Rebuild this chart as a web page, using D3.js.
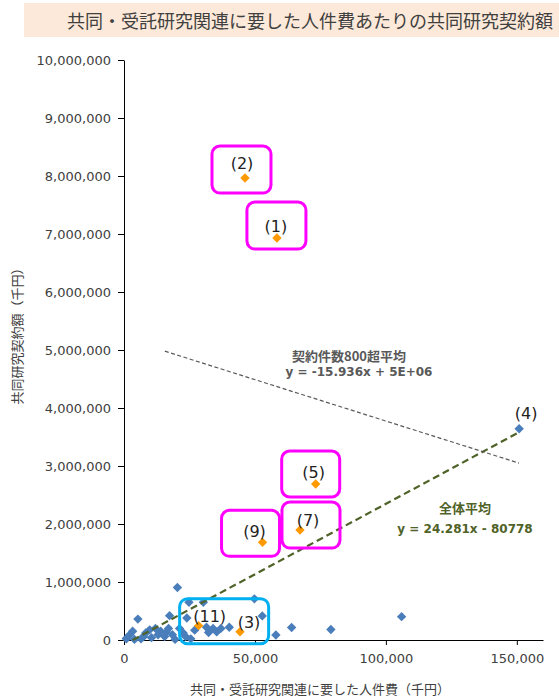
<!DOCTYPE html>
<html>
<head>
<meta charset="utf-8">
<script src="https://cdn.jsdelivr.net/npm/d3@7"></script>
<style>
  body { margin: 0; background: #fff; }
  svg { display: block; }
</style>
</head>
<body>
<script>
// 共同・受託研究関連に要した人件費 (千円) vs 共同研究契約額 (千円)
const blueX = [900, 1000, 2200, 3300, 4000, 5300, 6500, 7500, 8300, 9800, 10500, 12000, 13000, 14000,
  15500, 16200, 17400, 17000, 18500, 19500, 20400, 21200, 22600, 23500, 24000, 24800, 25500, 27000,
  30300, 31500, 32300, 34000, 35400, 37000, 40200, 49800, 52800, 58000, 64000, 79000, 106000];
const blueY = [20000, 30000, 90000, 150000, 10000, 360000, 20000, 60000, 120000, 175000, 40000, 200000, 90000, 150000,
  60000, 140000, 420000, 200000, 90000, 10000, 905000, 200000, 120000, 60000, 380000, 650000, 20000, 170000,
  650000, 220000, 130000, 200000, 140000, 200000, 220000, 710000, 415000, 86000, 215000, 180000, 402000];

// labelled universities
const namedLabels = ["(1)", "(2)", "(3)", "(4)", "(5)", "(7)", "(9)", "(11)"];
const namedX = [58400, 46200, 44300, 150900, 73200, 67200, 52900, 28500];
const namedY = [6930000, 7965000, 143000, 3643000, 2690000, 1896000, 1684000, 247000];
const namedOrange = [true, true, true, false, true, true, true, true];

// trend lines
const allSlope = 24.281, allIntercept = -80778;
const allLabel = ["全体平均", "y = 24.281x - 80778"];
const bigX = [15600, 150800];
const bigY = [4980000, 3050000];
const bigLabel = ["契約件数800超平均", "y = -15.936x + 5E+06"];

const yTicks = d3.range(0, 10000001, 1000000);
const xTicks = [0, 50000, 100000, 150000];

const W = 559, H = 699;
const blue = "#4A7EBB", orange = "#FF9900";
const tickFont = "DejaVu Sans, Verdana, sans-serif";
const jpFont = "'Noto Sans CJK JP', sans-serif";

const svg = d3.select("body").append("svg")
    .attr("width", W)
    .attr("height", H);

// title band
svg.append("rect")
    .attr("x", 24).attr("y", 3)
    .attr("width", W - 24).attr("height", 34)
    .attr("fill", "#FDE9D9");
svg.append("text")
    .attr("x", 310).attr("y", 20)
    .attr("text-anchor", "middle")
    .attr("dominant-baseline", "central")
    .style("font-family", jpFont)
    .style("font-size", "18px")
    .style("fill", "#404040")
    .text("共同・受託研究関連に要した人件費あたりの共同研究契約額");

const x = d3.scaleLinear().domain([0, 160000]).range([124, 543]);
const y = d3.scaleLinear().domain([0, 10000000]).range([640, 60]);

const yAxis = svg.append("g")
    .attr("transform", "translate(124,0)")
    .call(d3.axisLeft(y).tickValues(yTicks).tickFormat(d3.format(",")).tickSize(6).tickSizeOuter(0).tickPadding(7));
const xAxis = svg.append("g")
    .attr("transform", "translate(0,640)")
    .call(d3.axisBottom(x).tickValues(xTicks).tickFormat(d3.format(",")).tickSize(5).tickSizeOuter(0).tickPadding(9));

[yAxis, xAxis].forEach(g => {
    g.selectAll("text")
        .style("font-family", tickFont)
        .style("font-size", "13px")
        .style("fill", "#404040");
    g.selectAll("line, path").attr("stroke", "#000");
});

svg.append("text")
    .attr("transform", "translate(16,333) rotate(-90)")
    .attr("text-anchor", "middle")
    .attr("dominant-baseline", "central")
    .style("font-family", jpFont)
    .style("font-size", "13px")
    .style("fill", "#404040")
    .text("共同研究契約額（千円）");

svg.append("text")
    .attr("x", 320).attr("y", 688)
    .attr("text-anchor", "middle")
    .attr("dominant-baseline", "central")
    .style("font-family", jpFont)
    .style("font-size", "13px")
    .style("fill", "#404040")
    .text("共同・受託研究関連に要した人件費（千円）");

// diamond marker
const diamond = d3.symbol().type(d3.symbolSquare).size(44);

const bluePts = blueX.map((v, i) => ({ x: v, y: blueY[i] }));
svg.append("g").selectAll("path")
    .data(bluePts)
    .enter()
    .append("path")
    .attr("d", diamond)
    .attr("transform", d => `translate(${x(d.x)},${y(d.y)}) rotate(45)`)
    .attr("fill", blue);

// trend: 全体平均 (from x-intercept to max x)
const allX0 = -allIntercept / allSlope;
const allX1 = d3.max(namedX);
svg.append("line")
    .attr("x1", x(allX0)).attr("y1", y(allSlope * allX0 + allIntercept))
    .attr("x2", x(allX1)).attr("y2", y(allSlope * allX1 + allIntercept))
    .attr("stroke", "#4F6228")
    .attr("stroke-width", 2.2)
    .attr("stroke-dasharray", "7,4");

// trend: 契約件数800超平均
svg.append("line")
    .attr("x1", x(bigX[0])).attr("y1", y(bigY[0]))
    .attr("x2", x(bigX[1])).attr("y2", y(bigY[1]))
    .attr("stroke", "#595959")
    .attr("stroke-width", 1.2)
    .attr("stroke-dasharray", "4,2.5");

const named = namedLabels.map((l, i) => ({ label: l, x: namedX[i], y: namedY[i], orange: namedOrange[i] }));

svg.append("g").selectAll("path")
    .data(named)
    .enter()
    .append("path")
    .attr("d", diamond)
    .attr("transform", d => `translate(${x(d.x)},${y(d.y)}) rotate(45)`)
    .attr("fill", d => d.orange ? orange : blue);

// label offsets (px) from the point
const labelOffset = {
    "(1)": [-1, -12], "(2)": [-3, -15], "(3)": [9, -9], "(4)": [7, -15],
    "(5)": [-2, -11], "(7)": [8, -10], "(9)": [-8, -11], "(11)": [11, -9]
};

svg.append("g").selectAll("text")
    .data(named)
    .enter()
    .append("text")
    .attr("x", d => x(d.x) + labelOffset[d.label][0])
    .attr("y", d => y(d.y) + labelOffset[d.label][1])
    .attr("text-anchor", "middle")
    .attr("dominant-baseline", "central")
    .style("font-family", tickFont)
    .style("font-size", "16px")
    .style("fill", "#222")
    .text(d => d.label);

// callout boxes, placed relative to a point
const callouts = [
    { at: "(2)", dx: -33, dy: -32, w: 59, h: 47, color: "#FF00FF" },
    { at: "(1)", dx: -30, dy: -36, w: 59, h: 47, color: "#FF00FF" },
    { at: "(5)", dx: -34, dy: -33, w: 58, h: 46, color: "#FF00FF" },
    { at: "(7)", dx: -18, dy: -28, w: 58, h: 46, color: "#FF00FF" },
    { at: "(9)", dx: -41, dy: -32, w: 58, h: 46, color: "#FF00FF" },
    { at: "(11)", dx: -19, dy: -27, w: 89, h: 45, color: "#00B0F0" }
];
const byLabel = new Map(named.map(d => [d.label, d]));

svg.append("g").selectAll("rect")
    .data(callouts)
    .enter()
    .append("rect")
    .attr("x", d => x(byLabel.get(d.at).x) + d.dx)
    .attr("y", d => y(byLabel.get(d.at).y) + d.dy)
    .attr("width", d => d.w)
    .attr("height", d => d.h)
    .attr("rx", 8)
    .attr("fill", "none")
    .attr("stroke", d => d.color)
    .attr("stroke-width", 3);

// trend labels: first line Japanese, second line the equation
function trendLabel(lines, cx, cy, gap, color) {
    svg.append("g").selectAll("text")
        .data(lines)
        .enter()
        .append("text")
        .attr("x", (d, i) => cx[i])
        .attr("y", (d, i) => cy + i * gap)
        .attr("text-anchor", "middle")
        .attr("dominant-baseline", "central")
        .style("font-family", (d, i) => i === 0 ? jpFont : tickFont)
        .style("font-size", (d, i) => i === 0 ? "13px" : "12px")
        .style("font-weight", "bold")
        .style("fill", color)
        .text(d => d);
}
trendLabel(bigLabel, [349, 359], 355, 17, "#595959");
trendLabel(allLabel, [465, 465], 507, 22, "#4F6228");
</script>
</body>
</html>
